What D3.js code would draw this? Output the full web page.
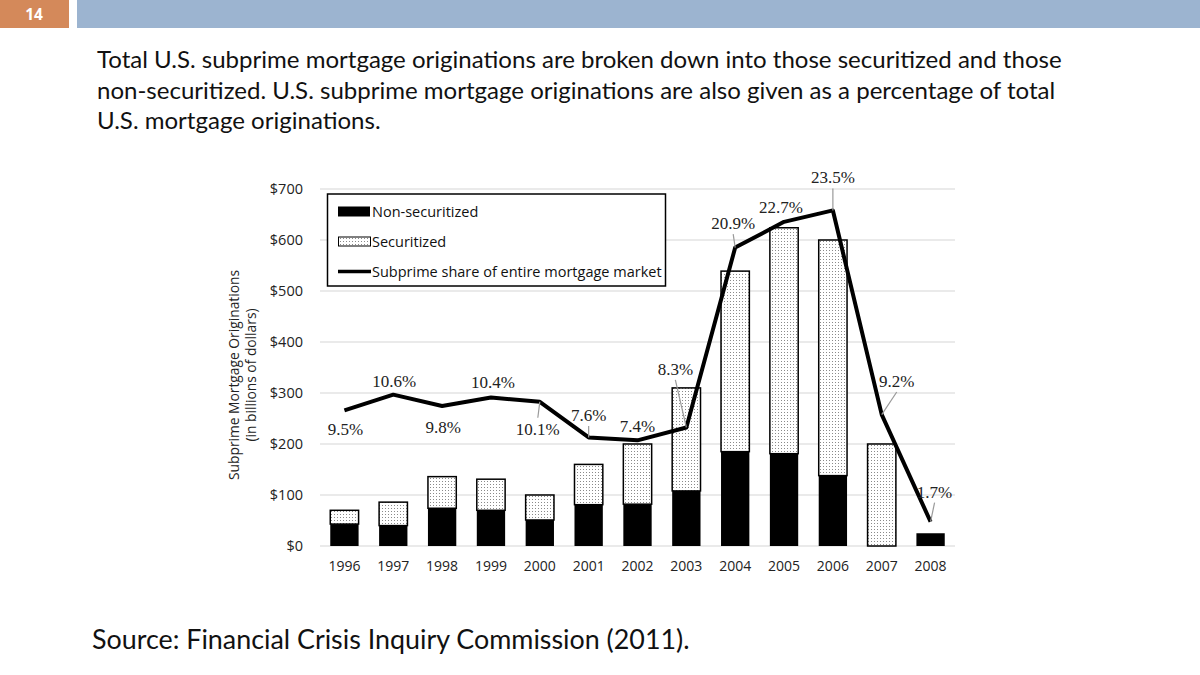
<!DOCTYPE html>
<html>
<head>
<meta charset="utf-8">
<script src="https://cdn.jsdelivr.net/npm/d3@7"></script>
<style>
  body { margin: 0; background: #fff; }
  svg { display: block; }
</style>
</head>
<body>
<div id="chart"></div>
<script>
// values
const years = ["1996","1997","1998","1999","2000","2001","2002","2003","2004","2005","2006","2007","2008"];
const nonSecuritized = [43, 40, 74, 70, 51, 81, 82, 108, 185, 181, 138, 0, 25];
const securitized = [27, 46, 62, 61, 49, 79, 118, 202, 354, 443, 462, 200, 0];
const sharePct = [9.5, 10.6, 9.8, 10.4, 10.1, 7.6, 7.4, 8.3, 20.9, 22.7, 23.5, 9.2, 1.7];
const yTicks = [0, 100, 200, 300, 400, 500, 600, 700];
const titleLines = [
  "Total U.S. subprime mortgage originations are broken down into those securitized and those",
  "non-securitized. U.S. subprime mortgage originations are also given as a percentage of total",
  "U.S. mortgage originations."
];

// label placement relative to its point (baseline), and whether a leader line is drawn
const labelPos = [
  {dx: 1, dy: 25, lead: false}, {dx: 1, dy: -8, lead: false}, {dx: 1, dy: 27, lead: false},
  {dx: 2, dy: -9.5, lead: false}, {dx: -2, dy: 33, lead: true}, {dx: 0, dy: -16.5, lead: true},
  {dx: 0, dy: -8, lead: false}, {dx: -11, dy: -52.5, lead: true}, {dx: -2, dy: -18.5, lead: true},
  {dx: -3, dy: -9, lead: false}, {dx: 0, dy: -27, lead: true}, {dx: 15, dy: -27.6, lead: true},
  {dx: 4, dy: -24, lead: true}
];

const W = 1200, H = 675;
const svg = d3.select("#chart").append("svg").attr("width", W).attr("height", H);

// slide header
svg.append("rect").attr("x", 0).attr("y", 0).attr("width", 69).attr("height", 28).attr("fill", "#D4895A");
svg.append("rect").attr("x", 77).attr("y", 0).attr("width", W - 77).attr("height", 28).attr("fill", "#9CB4D0");
svg.append("text").attr("x", 34).attr("y", 20).attr("text-anchor", "middle")
  .attr("font-family", "Open Sans, sans-serif").attr("font-weight", "bold").attr("font-size", 15.5)
  .attr("fill", "#fff").text("14");

// description text, sized so line 1 spans the same width as on the slide
const desc = svg.append("g").attr("font-family", "Lato, sans-serif").attr("fill", "#111");
const descText = desc.selectAll("text").data(titleLines).enter().append("text")
  .attr("x", 97).attr("y", (d, i) => 68 + i * 30.5).attr("font-size", 19).text(d => d);
const w0 = descText.node().getComputedTextLength();
descText.attr("font-size", 19 * 965 / w0);

const src = svg.append("text").attr("x", 92).attr("y", 649)
  .attr("font-family", "Lato, sans-serif").attr("font-size", 24).attr("fill", "#111")
  .text("Source: Financial Crisis Inquiry Commission (2011).");
src.attr("font-size", 24 * 598 / src.node().getComputedTextLength());

// pattern for securitized part
const defs = svg.append("defs");
const pat = defs.append("pattern").attr("id", "dots").attr("patternUnits", "userSpaceOnUse")
  .attr("width", 3).attr("height", 3);
pat.append("rect").attr("width", 3).attr("height", 3).attr("fill", "#fff");
pat.append("rect").attr("x", 1).attr("y", 1).attr("width", 1).attr("height", 1).attr("fill", "#8a8a8a");

const x = d3.scaleBand().domain(years).range([320, 955]).paddingInner(0.42).paddingOuter(0.21);
const y = d3.scaleLinear().domain([0, 700]).range([546, 189]);
const y2 = d3.scaleLinear().domain([0, 25]).range([546, 189]);

const chartFont = "Open Sans, sans-serif";

// grid
svg.append("g").selectAll("line").data(yTicks).enter().append("line")
  .attr("x1", 320).attr("x2", 955).attr("y1", d => y(d)).attr("y2", d => y(d))
  .attr("stroke", "#d6d6d6").attr("stroke-width", 1.2);

// y axis
const yAxis = svg.append("g").attr("transform", "translate(306,0)")
  .call(d3.axisLeft(y).tickValues(yTicks).tickSize(0).tickFormat(d => "$" + d));
yAxis.select(".domain").remove();
yAxis.selectAll("text").attr("font-family", chartFont).attr("font-size", 14.5).attr("fill", "#222");

// x axis
const xAxis = svg.append("g").attr("transform", "translate(0,558)")
  .call(d3.axisBottom(x).tickSize(0));
xAxis.select(".domain").remove();
xAxis.selectAll("text").attr("font-family", chartFont).attr("font-size", 14).attr("fill", "#222");

// y title
const yt = svg.append("text").attr("transform", "translate(239,375) rotate(-90)")
  .attr("text-anchor", "middle").attr("font-family", chartFont).attr("font-size", 13.8).attr("fill", "#222");
yt.append("tspan").attr("x", 0).attr("dy", 0).text("Subprime Mortgage Originations");
yt.append("tspan").attr("x", 0).attr("dy", 17).text("(in billions of dollars)");

// bars
const bars = svg.append("g");
years.forEach((yr, i) => {
  const n = nonSecuritized[i], s = securitized[i];
  if (n > 0) {
    bars.append("rect").attr("x", x(yr)).attr("width", x.bandwidth())
      .attr("y", y(n)).attr("height", y(0) - y(n)).attr("fill", "#000");
  }
  if (s > 0) {
    bars.append("rect").attr("x", x(yr)).attr("width", x.bandwidth())
      .attr("y", y(n + s)).attr("height", y(n) - y(n + s))
      .attr("fill", "url(#dots)").attr("stroke", "#000").attr("stroke-width", 1.5);
  }
});

// share line
const pts = years.map((yr, i) => [x(yr) + x.bandwidth() / 2, y2(sharePct[i])]);
svg.append("path").datum(pts).attr("d", d3.line())
  .attr("fill", "none").attr("stroke", "#000").attr("stroke-width", 4).attr("stroke-linejoin", "round");

// data labels with leader lines
const lab = svg.append("g");
pts.forEach((p, i) => {
  const o = labelPos[i];
  const lx = p[0] + o.dx, ly = p[1] + o.dy;
  if (o.lead) {
    const endY = o.dy > 0 ? ly - 17 : ly + 5;
    lab.append("line").attr("x1", p[0]).attr("y1", p[1]).attr("x2", lx).attr("y2", endY)
      .attr("stroke", "#9a9a9a").attr("stroke-width", 1.2);
  }
  lab.append("text").attr("x", lx).attr("y", ly).attr("text-anchor", "middle")
    .attr("font-family", "Liberation Serif, serif").attr("font-size", 17).attr("fill", "#222")
    .text(sharePct[i].toFixed(1) + "%");
});

// legend
const lg = svg.append("g");
lg.append("rect").attr("x", 327.5).attr("y", 194).attr("width", 338).attr("height", 92)
  .attr("fill", "#fff").attr("stroke", "#000").attr("stroke-width", 1.5);
const legendItems = ["Non-securitized", "Securitized", "Subprime share of entire mortgage market"];
legendItems.forEach((t, i) => {
  const cy = 211.5 + i * 30;
  if (i === 0) lg.append("rect").attr("x", 338).attr("y", cy - 5).attr("width", 32).attr("height", 10).attr("fill", "#000");
  if (i === 1) lg.append("rect").attr("x", 338.5).attr("y", cy - 4.5).attr("width", 32).attr("height", 9)
    .attr("fill", "url(#dots)").attr("stroke", "#000").attr("stroke-width", 1);
  if (i === 2) lg.append("line").attr("x1", 338).attr("x2", 371).attr("y1", cy).attr("y2", cy)
    .attr("stroke", "#000").attr("stroke-width", 3.5);
  lg.append("text").attr("x", 372).attr("y", cy + 5).attr("font-family", chartFont)
    .attr("font-size", 14.5).attr("fill", "#111").text(t);
});
</script>
</body>
</html>
